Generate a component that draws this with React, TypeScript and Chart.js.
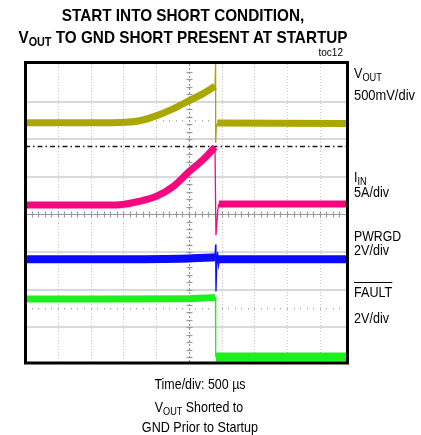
import React, { useEffect, useRef } from "react";
import { Chart, registerables } from "chart.js";

Chart.register(...registerables);

// Time axis in divisions (500 µs/div); values in screen divisions (0 = bottom, 8 = top)
const vOutTime = [0, 1.1, 2.3, 2.9, 3.5, 4.0, 4.5, 5.0, 5.45, 5.8, 5.83, 5.87, 9.8];
const vOutVals = [6.44, 6.44, 6.44, 6.445, 6.49, 6.62, 6.8, 7.02, 7.22, 7.41, null, 6.43, 6.42];
const vOutEdgeTime = [5.8, 5.82, 5.82, 5.84, 5.87];
const vOutEdgeVals = [7.41, 8.0, 5.9, 6.3, 6.43];

const iInTime = [0, 1.1, 2.3, 2.9, 3.5, 4.03, 4.52, 5.01, 5.44, 5.8, 5.85, 5.92, 9.8];
const iInVals = [4.25, 4.25, 4.25, 4.26, 4.35, 4.49, 4.74, 5.14, 5.46, 5.79, null, 4.28, 4.28];
const iInEdgeTime = [5.8, 5.83, 5.86, 5.89, 5.92];
const iInEdgeVals = [5.79, 3.45, 3.8, 4.15, 4.28];

const pwrgdTime = [0, 2.5, 5.0, 5.5, 5.8, 5.83, 5.86, 9.8];
const pwrgdVals = [2.81, 2.81, 2.83, 2.85, 2.86, null, 2.81, 2.81];
const pwrgdEdgeTime = [5.8, 5.82, 5.83, 5.86, 5.88, 5.91, 5.94];
const pwrgdEdgeVals = [2.86, 3.2, 1.95, 2.81, 3.0, 2.65, 2.81];

const faultTime = [0, 2.5, 5.0, 5.5, 5.8, 5.81, 5.83, 9.8];
const faultVals = [1.75, 1.75, 1.76, 1.78, 1.79, null, 0.21, 0.21];
const faultEdgeTime = [5.8, 5.815, 5.815, 5.83];
const faultEdgeVals = [1.79, 1.79, 0.21, 0.21];

const triggerLevel = 5.82;
const halfDivMarks = [6.5, 1.5];
const xDivs = 9.8;
const yMin = 0.05;
const yDivs = 8;

const YELLOW = "#aaa800";
const MAGENTA = "#f7077f";
const BLUE = "#0a0aff";
const GREEN = "#1ef01e";

const FONT = '"Liberation Sans", Arial, sans-serif';

function pts(t: number[], v: (number | null)[]) {
  return t.map((x, i) => ({ x, y: v[i] }));
}

const scopeGrid = {
  id: "scopeGrid",
  beforeDatasetsDraw(chart: any) {
    const { ctx, chartArea: a, scales } = chart;
    const x = scales.x;
    const y = scales.y;
    ctx.save();
    const line = (x0: number, y0: number, x1: number, y1: number) => {
      ctx.beginPath();
      ctx.moveTo(x0, y0);
      ctx.lineTo(x1, y1);
      ctx.stroke();
    };
    ctx.strokeStyle = "#d9d9d9";
    ctx.lineWidth = 2;
    ctx.setLineDash([]);
    for (let v = 1; v < yDivs; v++) {
      if (v === 4) continue;
      const py = Math.round(y.getPixelForValue(v));
      line(a.left, py, a.right, py);
    }
    ctx.strokeStyle = "#c4c4c4";
    ctx.lineWidth = 1;
    ctx.setLineDash([1, 2]);
    for (let u = 1; u < xDivs; u++) {
      if (u === 5) continue;
      const px = Math.round(x.getPixelForValue(u)) + 0.5;
      line(px, a.top, px, a.bottom);
    }
    ctx.setLineDash([]);
    ctx.fillStyle = "#a8a8a8";
    for (const m of halfDivMarks) {
      const py = Math.round(y.getPixelForValue(m));
      for (let u = 0.2; u < xDivs; u += 0.2) {
        const px = Math.round(x.getPixelForValue(u));
        ctx.fillRect(px, py, 1, 1.5);
      }
    }
    const cy = Math.round(y.getPixelForValue(4)) + 0.5;
    ctx.strokeStyle = "#9a9a9a";
    ctx.lineWidth = 1.2;
    line(a.left, cy, a.right, cy);
    for (let u = 0.2; u < xDivs; u += 0.2) {
      const px = Math.round(x.getPixelForValue(u)) + 0.5;
      line(px, cy - 3, px, cy + 3);
    }
    const cx = Math.round(x.getPixelForValue(5)) + 0.5;
    ctx.setLineDash([2, 2]);
    line(cx, a.top, cx, a.bottom);
    ctx.setLineDash([]);
    for (let v = yMin + 0.15; v < yDivs; v += 0.2) {
      const py = Math.round(y.getPixelForValue(Math.round(v * 5) / 5)) + 0.5;
      line(cx - 3, py, cx + 3, py);
    }
    const ty = Math.round(y.getPixelForValue(triggerLevel)) + 0.5;
    ctx.strokeStyle = "#1a1a1a";
    ctx.lineWidth = 1.5;
    ctx.setLineDash([5, 3, 1.5, 3]);
    line(a.left, ty, a.right, ty);
    ctx.restore();
  },
  afterDatasetsDraw(chart: any) {
    const { ctx, chartArea: a } = chart;
    ctx.save();
    ctx.strokeStyle = "#000";
    ctx.lineWidth = 3;
    ctx.setLineDash([]);
    ctx.strokeRect(a.left + 0.5, a.top - 1.5, a.right - a.left + 1, a.bottom - a.top + 1.5);
    ctx.restore();
  },
};

function Txt(props: {
  x: number;
  base: number;
  size: number;
  align?: "left" | "center" | "right";
  bold?: boolean;
  sx?: number;
  children: React.ReactNode;
  deco?: string;
}) {
  const { x, base, size, align = "left", bold, sx = 1, children, deco } = props;
  const top = base - 0.8465 * size;
  const style: React.CSSProperties = {
    position: "absolute",
    top,
    fontSize: size,
    lineHeight: `${size}px`,
    fontWeight: bold ? "bold" : "normal",
    fontFamily: FONT,
    whiteSpace: "nowrap",
    color: "#000",
    textDecoration: deco,
    transform: `scaleX(${sx})`,
    transformOrigin: align,
  };
  if (align === "left") style.left = x;
  if (align === "center") {
    style.left = x - 200;
    style.width = 400;
    style.textAlign = "center";
  }
  if (align === "right") {
    style.right = 421 - x;
    style.textAlign = "right";
  }
  return <div style={style}>{children}</div>;
}

function Sub(props: { size: number; shift: number; children: React.ReactNode }) {
  return (
    <span style={{ fontSize: props.size, position: "relative", top: props.shift }}>{props.children}</span>
  );
}

export default function App() {
  const ref = useRef<HTMLCanvasElement>(null);
  useEffect(() => {
    if (!ref.current) return;
    const thick = (data: any, color: string, w: number) => ({
      data,
      borderColor: color,
      borderWidth: w,
      pointRadius: 0,
      cubicInterpolationMode: "monotone",
      spanGaps: false,
      borderCapStyle: "butt",
      borderJoinStyle: "round",
    });
    const thin = (data: any, color: string) => ({
      data,
      borderColor: color,
      borderWidth: 1.3,
      pointRadius: 0,
      tension: 0,
    });
    const chart = new Chart(ref.current, {
      type: "line",
      data: {
        datasets: [
          thin(pts(vOutEdgeTime, vOutEdgeVals), YELLOW),
          thick(pts(vOutTime, vOutVals), YELLOW, 7),
          thin(pts(iInEdgeTime, iInEdgeVals), MAGENTA),
          thick(pts(iInTime, iInVals), MAGENTA, 7),
          thin(pts(pwrgdEdgeTime, pwrgdEdgeVals), BLUE),
          thick(pts(pwrgdTime, pwrgdVals), BLUE, 8),
          thin(pts(faultEdgeTime, faultEdgeVals), GREEN),
          {
            ...thick(pts(faultTime, faultVals), GREEN, 7),
            segment: { borderWidth: (c: any) => (c.p0.parsed.x > 5.81 ? 9 : 7) },
          },
        ] as any,
      },
      options: {
        animation: false,
        responsive: false,
        devicePixelRatio: 1,
        layout: { padding: { left: 25, top: 64, right: 75, bottom: 72 } },
        plugins: { legend: { display: false }, tooltip: { enabled: false }, title: { display: false } },
        scales: {
          x: { type: "linear", min: 0, max: xDivs, display: false },
          y: { type: "linear", min: yMin, max: yDivs, display: false },
        },
        events: [],
      } as any,
      plugins: [scopeGrid],
    });
    return () => chart.destroy();
  }, []);

  return (
    <div style={{ position: "absolute", left: 0, top: 0, width: 421, height: 435, background: "#fff", overflow: "hidden" }}>
      <canvas ref={ref} width={421} height={435} style={{ position: "absolute", left: 0, top: 0, width: 421, height: 435 }} />
      <Txt x={182.5} base={21} size={17} align="center" bold sx={0.9}>
        START INTO SHORT CONDITION,
      </Txt>
      <Txt x={182.5} base={43} size={17} align="center" bold sx={0.9}>
        V<Sub size={12} shift={3}>OUT</Sub> TO GND SHORT PRESENT AT STARTUP
      </Txt>
      <Txt x={343} base={56} size={10} align="right">
        toc12
      </Txt>

      <Txt x={354} base={78} size={15} sx={0.84}>
        V<Sub size={11} shift={3}>OUT</Sub>
      </Txt>
      <Txt x={354} base={100} size={15} sx={0.86}>500mV/div</Txt>
      <Txt x={354} base={181.5} size={15} sx={0.84}>
        I<Sub size={11} shift={3}>IN</Sub>
      </Txt>
      <Txt x={354} base={197} size={15} sx={0.84}>5A/div</Txt>
      <Txt x={354} base={241} size={15} sx={0.82}>PWRGD</Txt>
      <Txt x={354} base={254.5} size={15} sx={0.84}>2V/div</Txt>
      <Txt x={354} base={296.5} size={15} sx={0.84} deco="overline">FAULT</Txt>
      <Txt x={354} base={323} size={15} sx={0.84}>2V/div</Txt>

      <Txt x={200} base={389} size={15} align="center" sx={0.83}>Time/div: 500 µs</Txt>
      <Txt x={199} base={411.5} size={15} align="center" sx={0.83}>
        V<Sub size={11} shift={3}>OUT</Sub> Shorted to
      </Txt>
      <Txt x={200} base={432} size={15} align="center" sx={0.84}>GND Prior to Startup</Txt>
    </div>
  );
}
